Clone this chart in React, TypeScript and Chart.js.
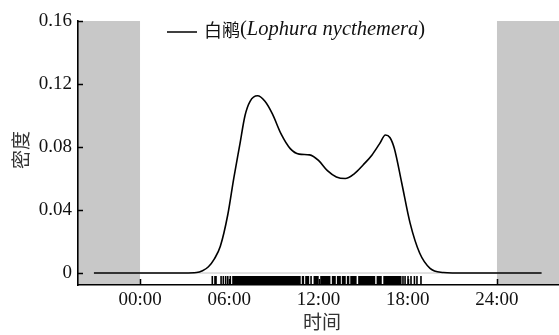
import React, { useEffect, useRef } from 'react';
import { Chart, registerables } from 'chart.js';

Chart.register(...registerables);

// Density curve (hours since midnight, kernel density)
const hours = [-3.1, 0, 3.0, 3.8, 4.2, 4.6, 5.0, 5.4, 5.9, 6.3, 6.7, 7.06, 7.4, 7.9, 8.4, 8.9, 9.5, 10.1, 10.7, 11.4, 12.0, 12.6, 13.2, 13.8, 14.4, 15.0, 15.6, 16.1, 16.5, 16.8, 17.1, 17.6, 18.15, 18.8, 19.5, 20.4, 21.0, 24.0, 27.0];
const density = [0, 0, 0, 0.0003, 0.0015, 0.004, 0.009, 0.017, 0.037, 0.060, 0.081, 0.100, 0.109, 0.1125, 0.109, 0.101, 0.088, 0.079, 0.0755, 0.075, 0.0715, 0.065, 0.061, 0.060, 0.063, 0.0686, 0.075, 0.082, 0.0876, 0.086, 0.079, 0.057, 0.032, 0.0127, 0.003, 0.0003, 0, 0, 0];

// Detection times (rug marks), hours
const rugTimes = [
  4.86, 5.04, 5.11, 5.45, 5.60, 5.76, 5.90, 6.07,
  6.25, 6.33, 6.42, 6.50, 6.58, 6.67, 6.75, 6.83, 6.92, 7.00, 7.08, 7.17, 7.25, 7.33, 7.42, 7.50,
  7.58, 7.67, 7.75, 7.83, 7.92, 8.00, 8.08, 8.17, 8.25, 8.33, 8.42, 8.50, 8.58, 8.67, 8.75, 8.83,
  8.92, 9.00, 9.08, 9.17, 9.25, 9.33, 9.42, 9.50, 9.58, 9.67, 9.75, 9.83, 9.92, 10.00, 10.08, 10.17,
  10.25, 10.33, 10.42, 10.50, 10.58, 10.67, 10.75, 10.93, 10.98, 11.16, 11.24, 11.32, 11.50, 11.72,
  11.80, 11.88, 11.96, 12.17, 12.25, 12.33, 12.42, 12.50, 12.58, 12.67, 12.75, 12.95, 13.03, 13.11,
  13.29, 13.37, 13.45, 13.62, 13.70, 13.78, 13.96, 14.02, 14.19, 14.27, 14.35, 14.43, 14.51, 14.72,
  14.80, 14.88, 14.96, 15.04, 15.12, 15.20, 15.28, 15.36, 15.44, 15.52, 15.60, 15.68, 15.76, 15.96,
  16.04, 16.12, 16.20, 16.41, 16.49, 16.57, 16.65, 16.73, 16.81, 16.89, 16.97, 17.05, 17.13, 17.21,
  17.29, 17.37, 17.45, 17.53, 17.68, 17.82, 18.02, 18.22, 18.45, 18.62, 18.89,
];

const xTicks = [0, 6, 12, 18, 24];
const xTickLabels = ['00:00', '06:00', '12:00', '18:00', '24:00'];
const yTicks = [0, 0.04, 0.08, 0.12, 0.16];
const yTickLabels = ['0', '0.04', '0.08', '0.12', '0.16'];
const xRange = [-4.17, 28.17];
const yRange = [-0.0076, 0.16];
const nightBands = [[-4.17, 0], [24, 28.17]];
const zeroLineX = [0, 24];
const legendParts = ['白鹇', '(', 'Lophura nycthemera', ')'];
const xTitle = '时间';
const yTitle = '密度';

export default function App() {
  const ref = useRef<HTMLCanvasElement>(null);

  useEffect(() => {
    if (!ref.current) return;
    const serif = "'Liberation Serif', 'Times New Roman', serif";
    const cjk = "'Noto Sans CJK SC', sans-serif";
    const textColor = '#111';

    const decor = {
      id: 'decor',
      beforeDraw(chart: any) {
        const { ctx, chartArea: a, scales } = chart;
        const x = scales.x;
        ctx.save();
        ctx.fillStyle = '#c8c8c8';
        for (const [s, e] of nightBands) {
          const x0 = Math.max(a.left, x.getPixelForValue(s));
          const x1 = Math.min(a.right, x.getPixelForValue(e));
          ctx.fillRect(x0, a.top, x1 - x0, a.bottom - a.top);
        }
        ctx.restore();
      },
      afterDraw(chart: any) {
        const { ctx, chartArea: a, scales } = chart;
        const x = scales.x;
        const y = scales.y;
        ctx.save();
        // rug
        ctx.strokeStyle = '#000';
        ctx.lineWidth = 1.6;
        ctx.beginPath();
        for (const t of rugTimes) {
          const px = x.getPixelForValue(t);
          ctx.moveTo(px, a.bottom);
          ctx.lineTo(px, a.bottom - 9);
        }
        ctx.stroke();
        // inward ticks
        ctx.lineWidth = 1.5;
        ctx.beginPath();
        for (const v of yTicks) {
          const py = Math.round(y.getPixelForValue(v)) + 0.5;
          ctx.moveTo(a.left, py);
          ctx.lineTo(a.left + 5, py);
        }
        for (const v of xTicks) {
          const px = Math.round(x.getPixelForValue(v)) + 0.5;
          ctx.moveTo(px, a.bottom);
          ctx.lineTo(px, a.bottom - 6);
        }
        ctx.stroke();
        // axis titles
        ctx.fillStyle = '#333';
        ctx.font = `19px ${cjk}`;
        ctx.textAlign = 'center';
        ctx.textBaseline = 'middle';
        ctx.fillText(xTitle, 322, 322);
        ctx.save();
        ctx.translate(21, 150);
        ctx.rotate(-Math.PI / 2);
        ctx.fillText(yTitle, 0, 0);
        ctx.restore();
        // legend
        ctx.strokeStyle = '#000';
        ctx.lineWidth = 1.5;
        ctx.beginPath();
        ctx.moveTo(167, 32);
        ctx.lineTo(197, 32);
        ctx.stroke();
        ctx.textAlign = 'left';
        ctx.textBaseline = 'middle';
        ctx.fillStyle = textColor;
        let cx = 204;
        ctx.font = `18px ${cjk}`;
        ctx.fillText(legendParts[0], cx, 30);
        cx += ctx.measureText(legendParts[0]).width;
        ctx.font = `20.5px ${serif}`;
        ctx.fillText(legendParts[1], cx, 30);
        cx += ctx.measureText(legendParts[1]).width;
        ctx.font = `italic 20.5px ${serif}`;
        ctx.fillText(legendParts[2], cx, 30);
        cx += ctx.measureText(legendParts[2]).width;
        ctx.font = `20.5px ${serif}`;
        ctx.fillText(legendParts[3], cx, 30);
        ctx.restore();
      },
    };

    const chart = new Chart(ref.current, {
      type: 'line',
      data: {
        datasets: [
          {
            label: 'density',
            data: hours.map((h, i) => ({ x: h, y: density[i] })),
            borderColor: '#000',
            borderWidth: 1.6,
            pointRadius: 0,
            cubicInterpolationMode: 'monotone',
            fill: false,
            order: 0,
          },
          {
            label: 'zero',
            data: zeroLineX.map((h) => ({ x: h, y: 0 })),
            borderColor: '#c4c4c4',
            borderWidth: 1,
            pointRadius: 0,
            fill: false,
            order: 1,
          },
        ],
      },
      options: {
        animation: false,
        responsive: true,
        maintainAspectRatio: false,
        layout: { padding: { top: 21, left: 0, right: 0, bottom: 0 } },
        plugins: { legend: { display: false }, tooltip: { enabled: false } },
        scales: {
          x: {
            type: 'linear',
            min: xRange[0],
            max: xRange[1],
            afterBuildTicks: (s: any) => {
              s.ticks = xTicks.map((v) => ({ value: v }));
            },
            afterFit: (s: any) => {
              s.height = 50;
            },
            grid: { display: false, drawTicks: false },
            border: { display: true, color: '#000', width: 1.6 },
            ticks: {
              autoSkip: false,
              maxRotation: 0,
              padding: 4,
              color: textColor,
              font: { family: serif, size: 19 },
              callback: (_v: any, i: number) => xTickLabels[i],
            },
          },
          y: {
            type: 'linear',
            min: yRange[0],
            max: yRange[1],
            afterBuildTicks: (s: any) => {
              s.ticks = yTicks.map((v) => ({ value: v }));
            },
            afterFit: (s: any) => {
              s.width = 78;
            },
            grid: { display: false, drawTicks: false },
            border: { display: true, color: '#000', width: 1.6 },
            ticks: {
              padding: 6,
              color: textColor,
              font: { family: serif, size: 19 },
              callback: (_v: any, i: number) => yTickLabels[i],
            },
          },
        },
      },
      plugins: [decor],
    });
    return () => chart.destroy();
  }, []);

  return (
    <div style={{ position: 'fixed', left: 0, top: 0, width: 559, height: 335, background: '#fff' }}>
      <canvas ref={ref} />
    </div>
  );
}
